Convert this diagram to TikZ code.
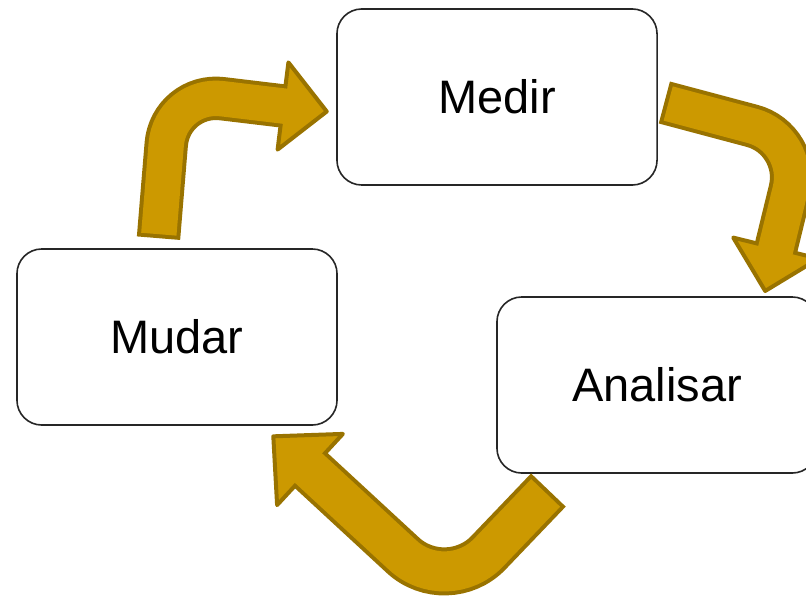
\documentclass[tikz,border=0pt]{standalone}
\usepackage{fontspec}
\setmainfont{Liberation Sans}
\usetikzlibrary{calc}

\definecolor{arrowgold}{RGB}{204,153,0}
\definecolor{arrowdark}{RGB}{153,115,0}
\definecolor{boxline}{RGB}{38,38,38}

\tikzset{
  stagebox/.style={draw=boxline, line width=0.04cm, fill=white, rounded corners=0.62cm,
    minimum width=8cm, minimum height=4.4cm, inner sep=0pt,
    font=\fontsize{33.4}{40}\selectfont},
  shaftout/.style={draw=arrowdark, line width=1.085cm},
  shaftin/.style={draw=arrowgold, line width=0.885cm, shorten <=0.1cm},
  headtip/.style={fill=arrowgold, draw=arrowdark, line width=0.1cm, line join=round},
}

\begin{document}
\begin{tikzpicture}[x=0.025cm, y=-0.025cm]

\useasboundingbox (0,0) rectangle (806,597);
\clip (0,0) rectangle (806,597);

\node[stagebox] (medir) at (497,97) {Medir};
\node[stagebox] (mudar) at (177,337) {Mudar};
\node[stagebox] (analisar) at (657,385) {Analisar};

% Mudar -> Medir
\coordinate (a1tail) at ($(mudar.north)+(-18.5,-10)$);
\coordinate (a1bend) at (170.5,92.5);
\coordinate (a1end) at (289,106.7);
\coordinate (a1tip) at ($(medir.west)+(-9.4,14.5)$);
\coordinate (a1barbl) at (288.4,62.4);
\coordinate (a1barbr) at (277.6,149.6);

\draw[shaftout, rounded corners=1.3cm] (a1tail) -- (a1bend) -- (a1end);
\draw[headtip] (a1barbl) -- (a1tip) -- (a1barbr) -- cycle;
\draw[shaftin, rounded corners=1.3cm] (a1tail) -- (a1bend) -- (a1end);

% Medir -> Analisar
\coordinate (a2tail) at ($(medir.east)+(6.5,5.5)$);
\coordinate (a2bend) at (802.5,139.3);
\coordinate (a2end) at (774.5,253.9);
\coordinate (a2tip) at ($(analisar.north)+(108.2,-5.2)$);
\coordinate (a2barbl) at (818.6,258.6);
\coordinate (a2barbr) at (733.2,237.6);

\draw[shaftout, rounded corners=1.3cm] (a2tail) -- (a2bend) -- (a2end);
\draw[headtip] (a2barbl) -- (a2tip) -- (a2barbr) -- cycle;
\draw[shaftin, rounded corners=1.3cm] (a2tail) -- (a2bend) -- (a2end);

% Analisar -> Mudar
\coordinate (a3tail) at ($(analisar.south)+(-108.6,16.2)$);
\coordinate (a3bend) at (447,596);
\coordinate (a3end) at (305.6,465.4);
\coordinate (a3tip) at ($(mudar.south)+(96.3,10.5)$);
\coordinate (a3barbl) at (342.9,433.9);
\coordinate (a3barbr) at (277.1,505.1);

\draw[shaftout, line width=1.2cm, rounded corners=1.5cm] (a3tail) -- (a3bend) -- (a3end);
\draw[headtip] (a3barbl) -- (a3tip) -- (a3barbr) -- cycle;
\draw[shaftin, line width=1.0cm, rounded corners=1.5cm] (a3tail) -- (a3bend) -- (a3end);

\end{tikzpicture}
\end{document}
